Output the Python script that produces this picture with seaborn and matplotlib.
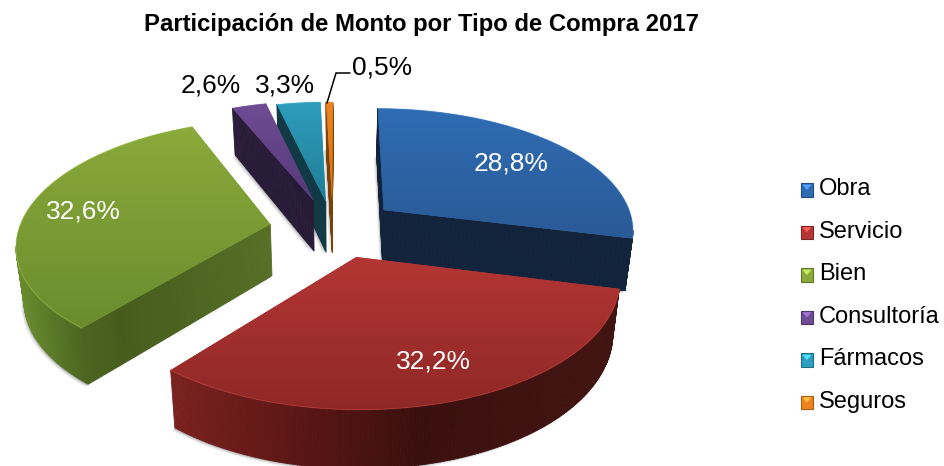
import numpy as np
import seaborn as sns
import matplotlib
matplotlib.use("Agg")
import matplotlib.pyplot as plt
from matplotlib.collections import PolyCollection
from matplotlib.colors import LinearSegmentedColormap, to_rgb
from matplotlib.legend_handler import HandlerBase
from matplotlib.patches import Patch, Polygon, Rectangle
from matplotlib.path import Path
from matplotlib.transforms import Transform

# Data
tipos = ["Obra", "Servicio", "Bien", "Consultoría", "Fármacos", "Seguros"]
participacion = [28.8, 32.2, 32.6, 2.6, 3.3, 0.5]

# Look of each slice
colores = ["#2f6cb3", "#b33634", "#8aaa3b", "#6f4c94", "#2f9dbd", "#ee8320"]
colores_abajo = ["#2a5a96", "#8e2826", "#6b8c2e", "#55397a", "#1f7d94", "#d87416"]
lados = [
    [(370, "#12243c"), (640, "#12243c")],
    [(168, "#7b2220"), (300, "#5a1614"), (420, "#3a100e"), (620, "#421411")],
    [(14, "#6b8f30"), (80, "#4c6620"), (120, "#465c1c"), (272, "#567026")],
    [(230, "#2a1c3a"), (320, "#261a36")],
    [(270, "#123a46"), (330, "#123a46")],
    [(320, "#7a4208"), (340, "#7a4208")],
]
desplaza = [(0.19, 0.176), (0.074, -0.207), (-0.267, 0.057),
            (-0.097, 0.26), (-0.046, 0.25), (-0.02, 0.25)]
orden_z = [5, 6, 4, 3, 2, 1]
# label centres in pixels
pos_etiqueta = [(511, 164), (433, 361), (83, 211), (211, 85), (285, 85), (382, 67)]
color_etiqueta = ["white", "white", "white", "black", "black", "black"]

CX, CY = 337, 231
A, B = 252, 122
K_X, K_Y = 0.15, 0.146
ALTO = 52


def proyecta(u, v, t=0.0):
    # flat disk -> pixels, t goes 0 (top face) to 1 (bottom face)
    x = A * u / (1 + K_X * v) * (1 - 0.025 * t)
    y = B * v / (1 + K_Y * v)
    return CX + x, CY - y + t * ALTO / (1 + 0.1 * v)


class Disco(Transform):
    input_dims = 2
    output_dims = 2
    is_separable = False
    has_inverse = False

    def __init__(self, du, dv):
        super().__init__()
        self.du, self.dv = du, dv

    def transform_non_affine(self, values):
        values = np.asarray(values, float)
        x, y = proyecta(values[:, 0] + self.du, values[:, 1] + self.dv)
        return np.column_stack([x, y])


class HandlerBisel(HandlerBase):
    # small bevelled legend key
    def create_artists(self, legend, orig, xd, yd, w, h, fontsize, trans):
        c = orig.get_facecolor()
        caja = Rectangle((xd, yd), w, h, facecolor=c, edgecolor=np.array(to_rgb(c)) * 0.7,
                         linewidth=0.8, transform=trans)
        tri = Polygon([(xd + 1, yd + h - 1), (xd + w - 1, yd + h - 1), (xd + w / 2, yd + h / 2)],
                      facecolor=np.minimum(np.array(to_rgb(c)) * 1.3 + 0.08, 1),
                      edgecolor="none", transform=trans)
        return [caja, tri]


sns.set_theme(style="white")
plt.rcParams["font.family"] = ["Liberation Sans", "DejaVu Sans"]

fig = plt.figure(figsize=(9.44, 4.66), dpi=100)
ax = fig.add_axes([0, 0, 1, 1])

wedges, _ = ax.pie(participacion, colors=colores, startangle=90, counterclock=False, radius=1)
ax.set_aspect("auto")

for i, w in enumerate(wedges):
    du, dv = desplaza[i]
    w.set_transform(Disco(du, dv) + ax.transData)
    w.set_edgecolor("none")
    z = orden_z[i] * 10
    w.set_zorder(z + 2)

    # outline of the slice on the disk, counter-clockwise from the apex
    ang = np.radians(np.linspace(w.theta1, w.theta2, 160))
    r1 = np.linspace(0, 1, 60)
    r2 = r1[::-1]
    u = np.r_[r1 * np.cos(ang[0]), np.cos(ang), r2 * np.cos(ang[-1])] + du
    v = np.r_[r1 * np.sin(ang[0]), np.sin(ang), r2 * np.sin(ang[-1])] + dv
    xt, yt = proyecta(u, v, 0)
    xb, yb = proyecta(u, v, 1)

    # soft shadow under the slice
    for off, al in [((-1, 1), 0.28), ((-2, 2), 0.16), ((-3, 3), 0.08)]:
        ax.fill(xb + off[0], yb + off[1], color="#555555", alpha=al, lw=0, zorder=z - 2)

    # sides: only the segments facing the viewer
    xs, cs = zip(*lados[i])
    rgb = np.array([to_rgb(c) for c in cs])
    quads, cols = [], []
    for j in range(len(xt) - 1):
        if xt[j + 1] > xt[j]:
            quads.append([(xt[j], yt[j]), (xt[j + 1], yt[j + 1]), (xb[j + 1], yb[j + 1]), (xb[j], yb[j])])
            xm = (xt[j] + xt[j + 1]) / 2
            cols.append([np.interp(xm, xs, rgb[:, k]) for k in range(3)])
    ax.add_collection(PolyCollection(quads, facecolors=cols, edgecolors=cols, linewidths=0.6, zorder=z))

    # top face gradient
    cmap = LinearSegmentedColormap.from_list("t", [colores[i], colores_abajo[i]])
    im = ax.imshow(np.linspace(0, 1, 128)[:, None], cmap=cmap, aspect="auto",
                   extent=(xt.min(), xt.max(), yt.max(), yt.min()), zorder=z + 3)
    im.set_clip_path(Path(np.column_stack([xt, yt])), ax.transData)

    # light rim along the arc
    claro = np.minimum(np.array(to_rgb(colores[i])) * 1.12 + 0.06, 1)
    ax.plot(xt[60:220], yt[60:220], color=claro, lw=0.8, alpha=0.4, zorder=z + 4)

ax.set_xlim(0, 944)
ax.set_ylim(466, 0)
ax.axis("off")

for v, (x, y), c in zip(participacion, pos_etiqueta, color_etiqueta):
    ax.text(x, y, f"{v:.1f}%".replace(".", ","), color=c, fontsize=19,
            ha="center", va="center", zorder=100)

# leader line of the smallest slice
ax.plot([327, 336, 350], [103, 73, 73], color="black", lw=1.1, zorder=99)

fig.suptitle("Participación de Monto por Tipo de Compra 2017", x=421 / 944, y=1 - 25 / 466,
             fontsize=17.2, fontweight="bold", color="black", va="center")

handles = [Patch(facecolor=c) for c in colores]
ax.legend(handles, tipos, loc="upper left", bbox_to_anchor=(801, 178), bbox_transform=ax.transData,
          frameon=False, fontsize=17, handlelength=0.5, handleheight=0.5, handletextpad=0.25,
          labelspacing=0.87, borderpad=0, borderaxespad=0, labelcolor="black",
          handler_map={Patch: HandlerBisel()})

fig.savefig("out.png", dpi=100)
